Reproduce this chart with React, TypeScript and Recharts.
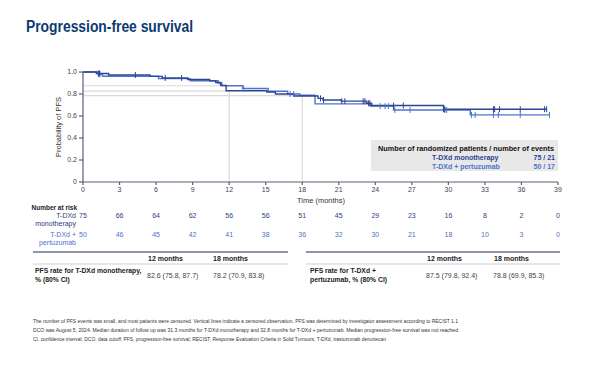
import React from "react";
import { ComposedChart, Line, Scatter, XAxis, YAxis, ReferenceLine } from "recharts";

const months = [0, 3, 6, 9, 12, 15, 18, 21, 24, 27, 30, 33, 36, 39];
const yTicks = [0, 0.2, 0.4, 0.6, 0.8, 1.0];
const riskMono = [75, 66, 64, 62, 56, 56, 51, 45, 29, 23, 16, 8, 2, 0];
const riskPert = [50, 46, 45, 42, 41, 38, 36, 32, 30, 21, 18, 10, 3, 0];

const monoTimes = [0, 1.1, 2.1, 5.5, 6.5, 8.6, 10.4, 10.9, 11.3, 11.75, 15.1, 15.8, 17.3, 19.3, 19.7, 21.2, 23.3, 23.7, 29.6, 38.1];
const monoSurv = [1.0, 0.987, 0.973, 0.96, 0.946, 0.932, 0.919, 0.905, 0.878, 0.83, 0.818, 0.8, 0.782, 0.76, 0.746, 0.735, 0.716, 0.695, 0.662, 0.662];
const pertTimes = [0, 1.3, 1.6, 6.2, 8.8, 11.1, 11.4, 13.1, 15.2, 16.8, 17.8, 19.05, 23.6, 25.5, 31.8, 38.3];
const pertSurv = [1.0, 0.98, 0.962, 0.94, 0.92, 0.9, 0.875, 0.85, 0.825, 0.8, 0.788, 0.71, 0.69, 0.655, 0.61, 0.61];

const monoCensor = [1.25, 1.35, 4.3, 6.75, 8.1, 19.5, 19.75, 21.25, 21.5, 23.0, 23.15, 23.45, 23.55, 25.5, 26.3, 29.6, 29.7, 33.7, 33.8, 34.2, 35.9, 37.9, 38.07];
const pertCensor = [1.3, 1.4, 13.2, 17.0, 17.3, 24.4, 24.8, 25.07, 25.6, 26.85, 29.7, 29.86, 31.9, 32.2, 33.7, 34.1, 35.9, 38.3];

const rate12 = ["82.6 (75.8, 87.7)", "87.5 (79.8, 92.4)"];
const rate18 = ["78.2 (70.9, 83.8)", "78.8 (69.9, 85.3)"];
const refMono12 = 0.826;
const refPert12 = 0.875;
const ref18 = 0.785;

const DARK = "#2c4593";
const LIGHT = "#4d74c9";
const AXIS = "#5b6078";
const FONT = "'Liberation Sans', Arial, sans-serif";

const toData = (ts: number[], ss: number[]) => ts.map((t, i) => ({ t, s: ss[i] }));
const survAt = (ts: number[], ss: number[], t: number) => {
  let v = ss[0];
  for (let i = 0; i < ts.length; i++) if (ts[i] <= t) v = ss[i];
  return v;
};

const monoData = toData(monoTimes, monoSurv);
const pertData = toData(pertTimes, pertSurv);
const monoCensorData = monoCensor.map((t) => ({ t, s: survAt(monoTimes, monoSurv, t) }));
const pertCensorData = pertCensor.map((t) => ({ t, s: survAt(pertTimes, pertSurv, t) }));

const makeCensor = (color: string) => (props: any) => {
  const { cx, cy } = props;
  if (cx == null || cy == null) return <g />;
  return <line x1={cx} x2={cx} y1={cy - 3} y2={cy + 3} stroke={color} strokeWidth={1} />;
};

const RiskTick = (props: any) => {
  const { x, y, payload } = props;
  const idx = months.indexOf(payload.value);
  return (
    <g>
      <text x={x} y={y} dy="0.71em" textAnchor="middle" fontSize={7} fill="#444" fontFamily={FONT}>
        {payload.value}
      </text>
      <text x={x} y={218} textAnchor="middle" fontSize={7} fill="#2b3f7e" fontFamily={FONT}>
        {riskMono[idx]}
      </text>
      <text x={x} y={236.5} textAnchor="middle" fontSize={7} fill={LIGHT} fontFamily={FONT}>
        {riskPert[idx]}
      </text>
    </g>
  );
};

const footLines = [
  "The number of PFS events was small, and most patients were censored. Vertical lines indicate a censored observation. PFS was determined by investigator assessment according to RECIST 1.1",
  "DCO was August 5, 2024. Median duration of follow up was 31.3 months for T-DXd monotherapy and 32.8 months for T-DXd + pertuzumab. Median progression-free survival was not reached",
  "CI, confidence interval; DCO, data cutoff; PFS, progression-free survival; RECIST, Response Evaluation Criteria in Solid Tumours; T-DXd, trastuzumab deruxtecan",
];
const footLens = [425, 425, 353];

export default function App() {
  return (
    <div style={{ position: "absolute", left: 0, top: 0, width: 600, height: 365, background: "#fff", overflow: "hidden" }}>
      <div style={{ position: "absolute", left: 0, top: 0 }}>
        <ComposedChart width={600} height={365} margin={{ top: 72, right: 42, left: 43, bottom: 153 }}>
          <XAxis
            dataKey="t"
            type="number"
            domain={[0, 39]}
            ticks={months}
            interval={0}
            height={30}
            tickSize={3}
            tickMargin={2}
            stroke={AXIS}
            strokeWidth={1.2}
            tick={<RiskTick />}
            allowDataOverflow
          />
          <YAxis
            dataKey="s"
            type="number"
            domain={[0, 1]}
            ticks={yTicks}
            width={40}
            tickSize={4}
            tickMargin={2}
            stroke={AXIS}
            strokeWidth={1.2}
            tick={{ fontSize: 7, fill: "#444", fontFamily: FONT }}
            tickFormatter={(v: number) => (v === 0 ? "0" : v.toFixed(1))}
          />
          <ReferenceLine segment={[{ x: 0, y: refPert12 }, { x: 11.4, y: refPert12 }]} stroke="#d9d9d9" strokeWidth={1.2} />
          <ReferenceLine segment={[{ x: 0, y: refMono12 }, { x: 12, y: refMono12 }]} stroke="#d9d9d9" strokeWidth={1.2} />
          <ReferenceLine segment={[{ x: 0, y: ref18 }, { x: 18, y: ref18 }]} stroke="#d9d9d9" strokeWidth={1.2} />
          <ReferenceLine segment={[{ x: 12, y: 0 }, { x: 12, y: refMono12 }]} stroke="#d9d9d9" strokeWidth={1.2} />
          <ReferenceLine segment={[{ x: 18, y: 0 }, { x: 18, y: ref18 }]} stroke="#d9d9d9" strokeWidth={1.2} />
          <Line data={pertData} dataKey="s" type="stepAfter" stroke={LIGHT} strokeWidth={1.4} dot={false} isAnimationActive={false} />
          <Line data={monoData} dataKey="s" type="stepAfter" stroke={DARK} strokeWidth={1.4} dot={false} isAnimationActive={false} />
          <Scatter data={pertCensorData} dataKey="s" fill={LIGHT} shape={makeCensor(LIGHT)} isAnimationActive={false} />
          <Scatter data={monoCensorData} dataKey="s" fill={DARK} shape={makeCensor(DARK)} isAnimationActive={false} />
        </ComposedChart>
      </div>
      <svg width={600} height={365} style={{ position: "absolute", left: 0, top: 0, pointerEvents: "none" }} fontFamily={FONT}>
        <text x={26} y={31.5} fontSize={16} fontWeight="bold" fill="#0d3b70" textLength={167} lengthAdjust="spacingAndGlyphs">
          Progression-free survival
        </text>
        <text transform="translate(61,127) rotate(-90)" textAnchor="middle" fontSize={7.5} fill="#333">
          Probability of PFS
        </text>
        <text x={321} y={202.5} textAnchor="middle" fontSize={7.5} fill="#333">Time (months)</text>

        <rect x={371} y={140} width={187} height={31} fill="#e8e8e8" />
        <text x={378} y={151} fontSize={7} fontWeight="bold" fill="#111" textLength={176} lengthAdjust="spacingAndGlyphs">
          Number of randomized patients / number of events
        </text>
        <text x={432} y={160} fontSize={7} fontWeight="bold" fill={DARK}>T-DXd monotherapy</text>
        <text x={555} y={160} fontSize={7} fontWeight="bold" fill={DARK} textAnchor="end">75 / 21</text>
        <text x={432} y={169} fontSize={7} fontWeight="bold" fill={LIGHT}>T-DXd + pertuzumab</text>
        <text x={555} y={169} fontSize={7} fontWeight="bold" fill={LIGHT} textAnchor="end">50 / 17</text>

        <text x={31.5} y={209.5} fontSize={6.5} fontWeight="bold" fill="#222">Number at risk</text>
        <text x={76} y={218} fontSize={7} fill="#2b3f7e" textAnchor="end">T-DXd</text>
        <text x={76} y={225.5} fontSize={7} fill="#2b3f7e" textAnchor="end">monotherapy</text>
        <text x={76} y={236.5} fontSize={7} fill={LIGHT} textAnchor="end">T-DXd +</text>
        <text x={76} y={244.5} fontSize={7} fill={LIGHT} textAnchor="end">pertuzumab</text>

        <line x1={33} x2={288} y1={252} y2={252} stroke="#6b7090" strokeWidth={1.3} />
        <line x1={33} x2={288} y1={264} y2={264} stroke="#cfcfd6" strokeWidth={1} />
        <text x={148} y={260.5} fontSize={7} fontWeight="bold" fill="#222">12 months</text>
        <text x={213} y={260.5} fontSize={7} fontWeight="bold" fill="#222">18 months</text>
        <text x={35} y={272.5} fontSize={6.8} fontWeight="bold" fill="#222">PFS rate for T-DXd monotherapy,</text>
        <text x={35} y={282} fontSize={6.8} fontWeight="bold" fill="#222">% (80% CI)</text>
        <text x={147} y={277.5} fontSize={7} fill="#444">{rate12[0]}</text>
        <text x={213} y={277.5} fontSize={7} fill="#444">{rate18[0]}</text>

        <line x1={306} x2={560} y1={252} y2={252} stroke="#6b7090" strokeWidth={1.3} />
        <line x1={306} x2={560} y1={264} y2={264} stroke="#cfcfd6" strokeWidth={1} />
        <text x={427} y={260.5} fontSize={7} fontWeight="bold" fill="#222">12 months</text>
        <text x={494} y={260.5} fontSize={7} fontWeight="bold" fill="#222">18 months</text>
        <text x={310} y={272.5} fontSize={6.8} fontWeight="bold" fill="#222">PFS rate for T-DXd +</text>
        <text x={310} y={282} fontSize={6.8} fontWeight="bold" fill="#222">pertuzumab, % (80% CI)</text>
        <text x={426} y={277.5} fontSize={7} fill="#444">{rate12[1]}</text>
        <text x={493} y={277.5} fontSize={7} fill="#444">{rate18[1]}</text>

        {footLines.map((l, i) => (
          <text key={i} x={33} y={323 + i * 9} fontSize={6} fill="#333" textLength={footLens[i]} lengthAdjust="spacingAndGlyphs">
            {l}
          </text>
        ))}
      </svg>
    </div>
  );
}
